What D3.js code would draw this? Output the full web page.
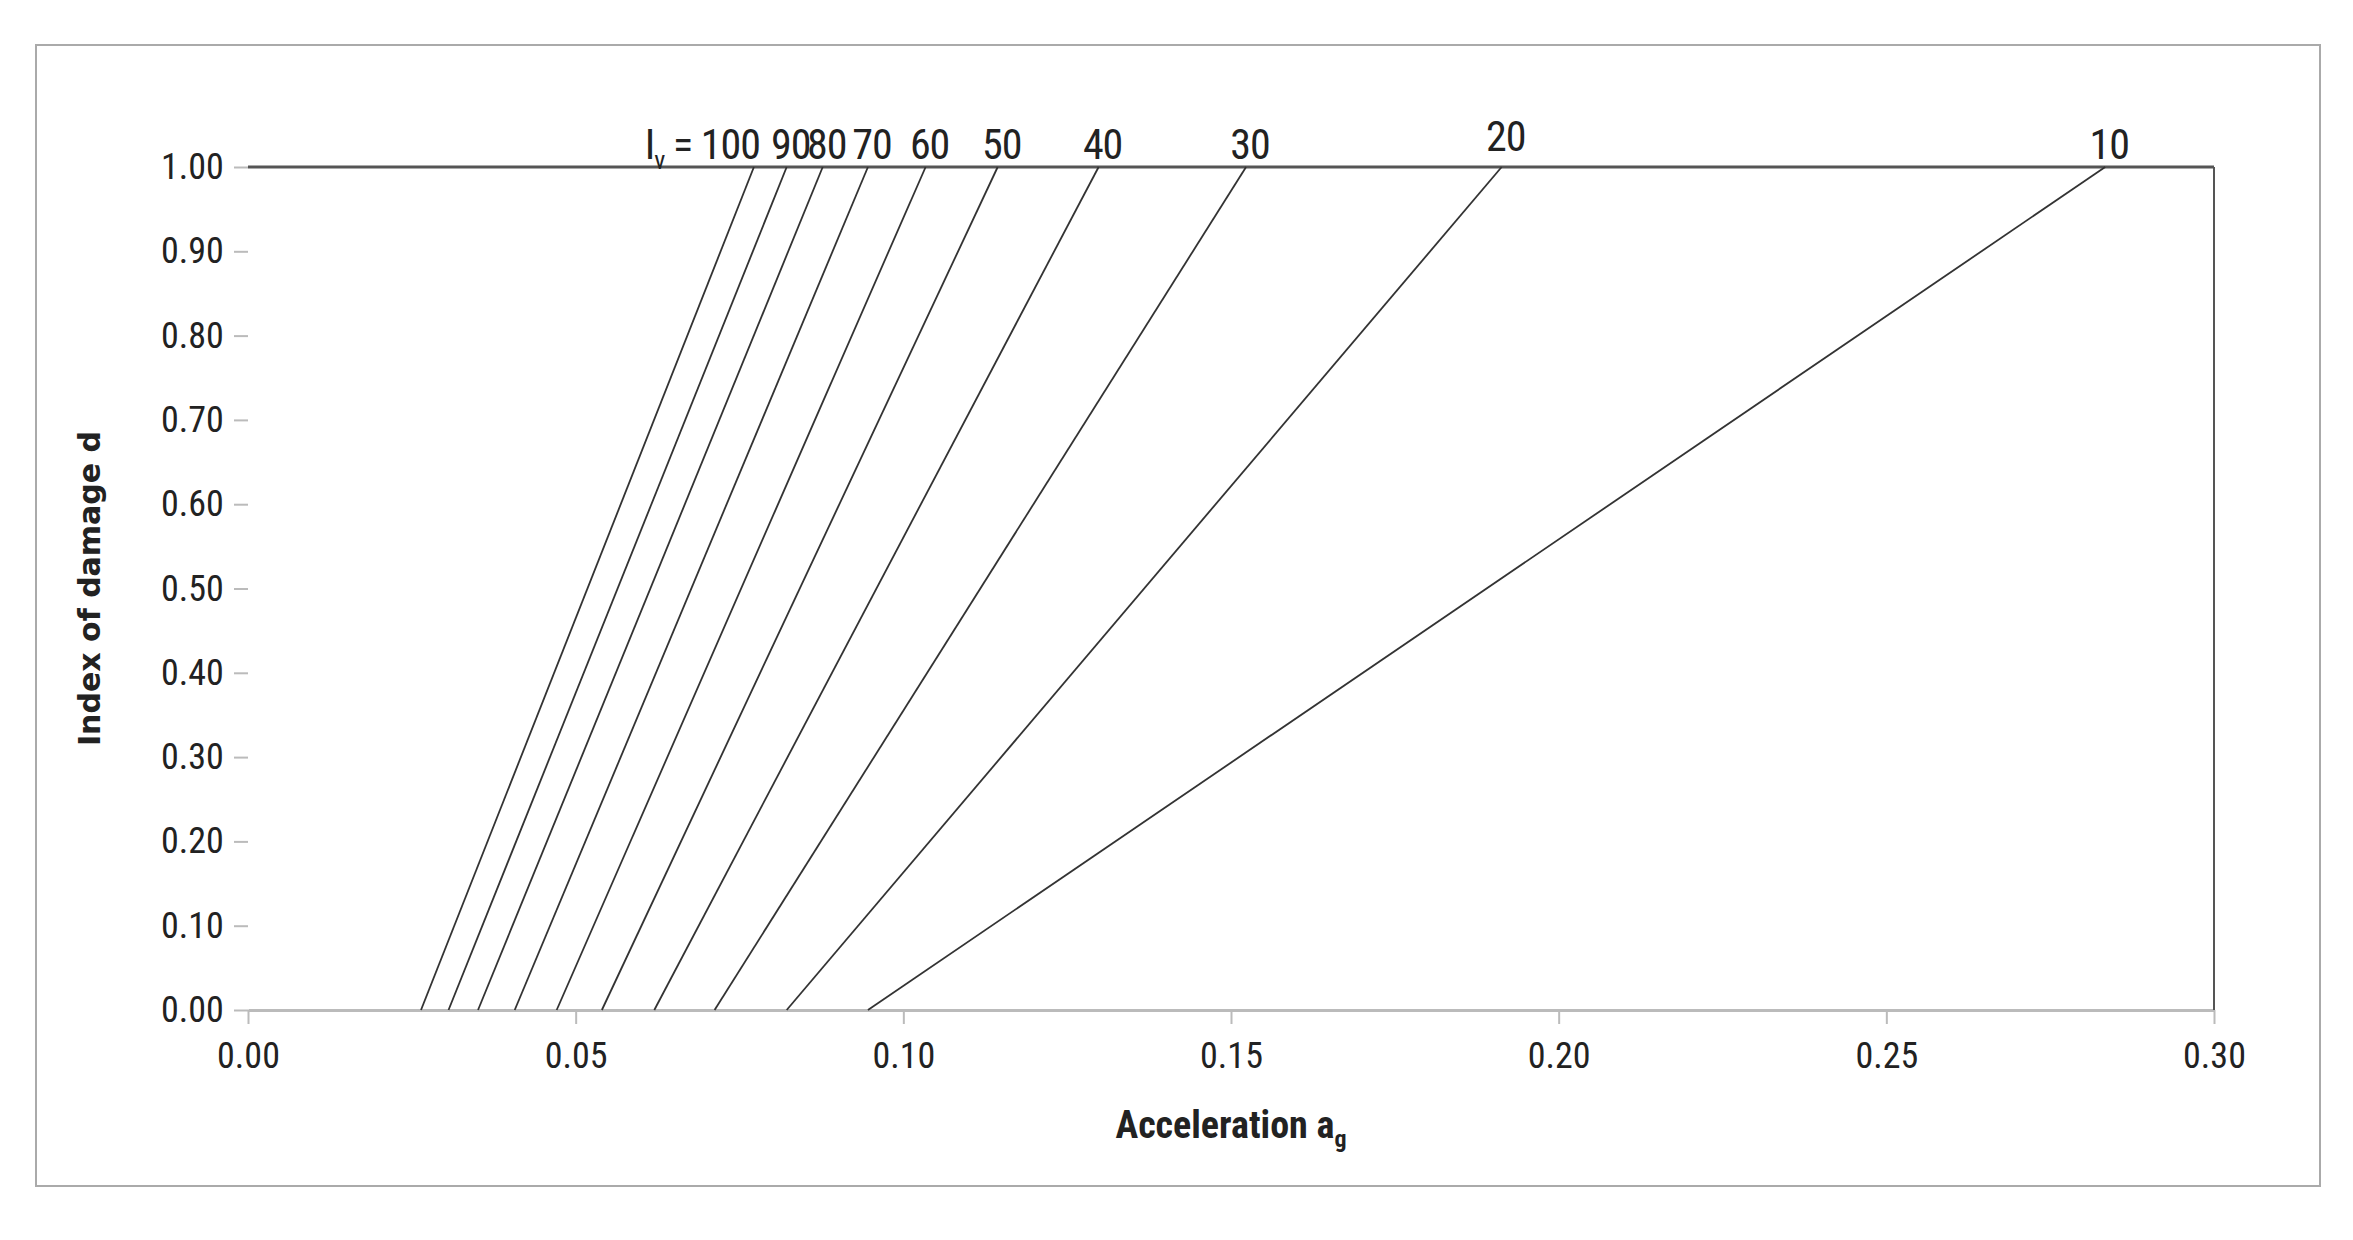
<!DOCTYPE html>
<html><head><meta charset="UTF-8"/>
<script src="https://d3js.org/d3.v7.min.js"></script>
<style>
  body{margin:0;background:#fff}
  text{font-family:"Liberation Sans Narrow","Roboto Condensed","Liberation Sans",sans-serif;fill:#222}
</style></head>
<body>
<svg id="c" width="2353" height="1240"></svg>
<script>
// Iv values with acceleration at d=0 and d=1
const ivs    = [100, 90, 80, 70, 60, 50, 40, 30, 20, 10];
const aStart = [0.0264,0.0306,0.0351,0.0407,0.0471,0.0540,0.0620,0.0712,0.0822,0.0946];
const aEnd   = [0.0772,0.0822,0.0877,0.0946,0.1034,0.1144,0.1298,0.1523,0.1913,0.2834];
const xTicks = [0,0.05,0.10,0.15,0.20,0.25,0.30];
const yTicks = d3.range(0,11).map(i=>i/10);

const svg = d3.select('#c');
svg.append('rect').attr('x',36).attr('y',45).attr('width',2284).attr('height',1141)
  .attr('fill','none').attr('stroke','#aaa').attr('stroke-width',2);

const x = d3.scaleLinear().domain([0,0.3]).range([248,2214]);
const y = d3.scaleLinear().domain([0,1]).range([1010,167]);

// x axis
const gx = svg.append('g').attr('transform','translate(0,1010)')
  .call(d3.axisBottom(x).tickValues(xTicks).tickFormat(d3.format('.2f')).tickSize(14).tickSizeOuter(0));
gx.select('.domain').attr('stroke','#bbb').attr('stroke-width',3);
gx.selectAll('.tick line').attr('stroke','#bbb').attr('stroke-width',2);
gx.selectAll('text').attr('font-size',36).attr('dy','1.15em');

// y axis (ticks and labels only)
const gy = svg.append('g').attr('transform','translate(248,0)')
  .call(d3.axisLeft(y).tickValues(yTicks).tickFormat(d3.format('.2f')).tickSize(14));
gy.select('.domain').remove();
gy.selectAll('.tick line').attr('stroke','#bbb').attr('stroke-width',2);
gy.selectAll('text').attr('font-size',36).attr('dx','-0.2em');

// top and right borders
svg.append('line').attr('x1',x(0)).attr('x2',x(0.3)).attr('y1',y(1)).attr('y2',y(1))
  .attr('stroke','#555').attr('stroke-width',3);
svg.append('line').attr('x1',x(0.3)).attr('x2',x(0.3)).attr('y1',y(1)).attr('y2',y(0))
  .attr('stroke','#555').attr('stroke-width',2);

// lines
ivs.forEach((iv,i)=>{
  svg.append('line').attr('x1',x(aStart[i])).attr('y1',y(0)).attr('x2',x(aEnd[i])).attr('y2',y(1))
    .attr('stroke','#333').attr('stroke-width',1.8);
  const t = svg.append('text').attr('y',y(1)-(iv===20?16:8)).attr('font-size',42)
    .attr('letter-spacing',-1);
  if(iv===100){
    t.attr('x',x(aEnd[i])+6).attr('text-anchor','end');
    t.append('tspan').text('I');
    t.append('tspan').text('v').attr('font-size',26).attr('dy',10);
    t.append('tspan').text(' = 100').attr('dy',-10);
  } else {
    t.attr('x',x(aEnd[i])+4).attr('text-anchor','middle').text(iv);
  }
});

// axis titles
const xt = svg.append('text').attr('x',(x(0)+x(0.3))/2).attr('y',1138).attr('text-anchor','middle')
  .attr('font-size',38).attr('font-weight','bold');
xt.append('tspan').text('Acceleration a');
xt.append('tspan').text('g').attr('font-size',24).attr('dy',9);

svg.append('text').attr('transform',`translate(100,${(y(0)+y(1))/2}) rotate(-90)`)
  .attr('text-anchor','middle').attr('font-size',30).attr('font-weight','bold')
  .style('font-family','"DejaVu Sans",sans-serif').text('Index of damage d');
</script>
</body></html>
